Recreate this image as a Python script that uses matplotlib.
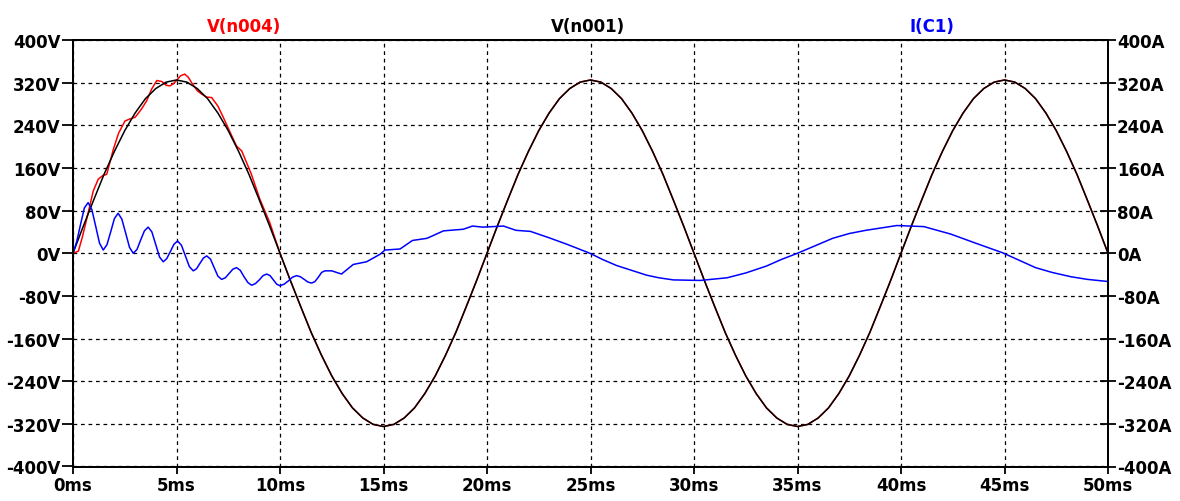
import numpy as np
import matplotlib
matplotlib.use("Agg")
import matplotlib.pyplot as plt

# ── datos ────────────────────────────────────────────────
# V(n001): paso de 0.5 ms, 0..50 ms
t_n001 = np.arange(101) * 0.5
v_n001 = [0, 51, 100, 148, 191, 230, 263, 290, 309, 321,
          325, 321, 309, 290, 263, 230, 191, 148, 100, 51,
          0, -51, -100, -148, -191, -230, -263, -290, -309, -321,
          -325, -321, -309, -290, -263, -230, -191, -148, -100, -51,
          0, 51, 100, 148, 191, 230, 263, 290, 309, 321,
          325, 321, 309, 290, 263, 230, 191, 148, 100, 51,
          0, -51, -100, -148, -191, -230, -263, -290, -309, -321,
          -325, -321, -309, -290, -263, -230, -191, -148, -100, -51,
          0, 51, 100, 148, 191, 230, 263, 290, 309, 321,
          325, 321, 309, 290, 263, 230, 191, 148, 100, 51,
          0]

# V(n004): tramo inicial con rizado, luego sigue a V(n001)
t_n004_ini = [0, 0.26, 0.45, 0.66, 0.98, 1.22, 1.45, 1.63, 1.95, 2.2,
              2.51, 2.75, 3.0, 3.3, 3.56, 3.8, 4.05, 4.3, 4.5, 4.69,
              4.85, 5.0, 5.2, 5.4, 5.57, 5.73, 6.0, 6.2, 6.45, 6.7,
              7.0, 7.26, 7.6, 7.9, 8.15, 8.6, 9.03, 9.5, 10.0]
v_n004_ini = [0, 4, 30, 64, 117, 139, 146, 148, 195, 225,
              248, 252, 255, 270, 286, 308, 324, 322, 315, 314,
              318, 324, 333, 336, 330, 320, 305, 299, 293, 292,
              276, 255, 226, 201, 192, 150, 101, 58, 0]

# I(C1)
t_c1 = [0, 0.18, 0.37, 0.55, 0.73, 0.91, 1.1, 1.28, 1.46, 1.64,
        1.82, 2.0, 2.18, 2.36, 2.55, 2.73, 2.91, 3.09, 3.27, 3.45,
        3.63, 3.81, 4.0, 4.18, 4.36, 4.53, 4.7, 4.88, 5.05, 5.24,
        5.43, 5.62, 5.81, 5.97, 6.13, 6.3, 6.46, 6.64, 6.82, 7.0,
        7.18, 7.36, 7.54, 7.72, 7.9, 8.08, 8.26, 8.45, 8.63, 8.81,
        9.0, 9.18, 9.36, 9.52, 9.68, 9.84, 10.0, 10.2, 10.4, 10.6,
        10.8, 10.98, 11.17, 11.35, 11.53, 11.69, 11.85, 12.01, 12.17, 12.5,
        12.97, 13.54, 14.18, 14.83, 15.07, 15.8, 16.4, 17.1, 17.9, 18.85,
        19.3, 19.8, 20.8, 21.4, 22.1, 23.0, 23.85, 24.97, 25.6, 26.26,
        27.7, 28.3, 29.0, 30.3, 31.6, 32.5, 33.5, 34.2, 35.0, 36.7,
        37.5, 38.3, 39.8, 41.1, 42.4, 43.6, 44.9, 46.5, 47.3, 48.2,
        49.0, 50.0]
i_c1 = [0, 22, 55, 85, 95, 82, 50, 19, 6, 16,
        40, 65, 75, 64, 37, 11, 0, 7, 25, 42,
        49, 40, 16, -7, -16, -10, 3, 17, 23, 15,
        -5, -25, -33, -29, -19, -9, -5, -11, -27, -43,
        -49, -46, -38, -30, -27, -32, -44, -55, -60, -57,
        -50, -42, -39, -42, -50, -58, -61, -58, -52, -45,
        -42, -44, -49, -54, -56, -53, -45, -36, -33, -33,
        -39, -21, -16, -2, 6, 8, 24, 28, 42, 45,
        51, 49, 51, 43, 41, 29, 17, 0, -12, -23,
        -41, -46, -50, -51, -46, -37, -24, -12, 0, 28,
        37, 43, 52, 50, 36, 19, 1, -27, -36, -44,
        -49, -53]

y_ticks = np.arange(-400, 401, 80)
x_ticks = np.arange(0, 51, 5)

# V(n004) completa
t_n004 = np.concatenate([t_n004_ini, t_n001[t_n001 > 10.0]])
v_n004 = np.concatenate([v_n004_ini, np.array(v_n001)[t_n001 > 10.0]])

plt.rcParams['font.family'] = ['DejaVu Sans']
plt.rcParams['font.weight'] = 'bold'

fig = plt.figure(figsize=(11.8, 5.02), dpi=100)
ax = fig.add_axes([73 / 1180, 1 - 467.5 / 502, 1035 / 1180, 426.5 / 502])
ax2 = ax.twinx()

ax.plot(t_n004, v_n004, color='red', lw=1.1)
ax.plot(t_n001, v_n001, color='black', lw=1.1)
ax2.plot(t_c1, i_c1, color='blue', lw=1.1)

for a in (ax, ax2):
    a.set_xlim(0, 50)
    a.set_ylim(-400, 400)
    for s in a.spines.values():
        s.set_linewidth(1.4)

ax.set_xticks(x_ticks)
ax.set_xticklabels([f'{v}ms' for v in x_ticks])
ax.set_yticks(y_ticks)
ax.set_yticklabels([f'{v}V' for v in y_ticks])
ax2.set_yticks(y_ticks)
ax2.set_yticklabels([f'{v}A' for v in y_ticks])

ax.tick_params(axis='y', direction='out', length=8, width=1.3, labelsize=12, pad=1)
ax.tick_params(axis='x', direction='out', length=5, width=1.3, labelsize=12, pad=2)
ax2.tick_params(axis='y', direction='inout', length=11, width=1.3, labelsize=12, pad=1)

ax.grid(True, color='black', ls=(0, (3, 3)), lw=0.9)

fig.text(244 / 1180, 1 - 27 / 502, 'V(n004)', color='red', ha='center', va='center',
         fontsize=12, fontweight='bold')
fig.text(588 / 1180, 1 - 27 / 502, 'V(n001)', color='black', ha='center', va='center',
         fontsize=12, fontweight='bold')
fig.text(932 / 1180, 1 - 27 / 502, 'I(C1)', color='blue', ha='center', va='center',
         fontsize=12, fontweight='bold')

fig.savefig('out.png', dpi=100)
